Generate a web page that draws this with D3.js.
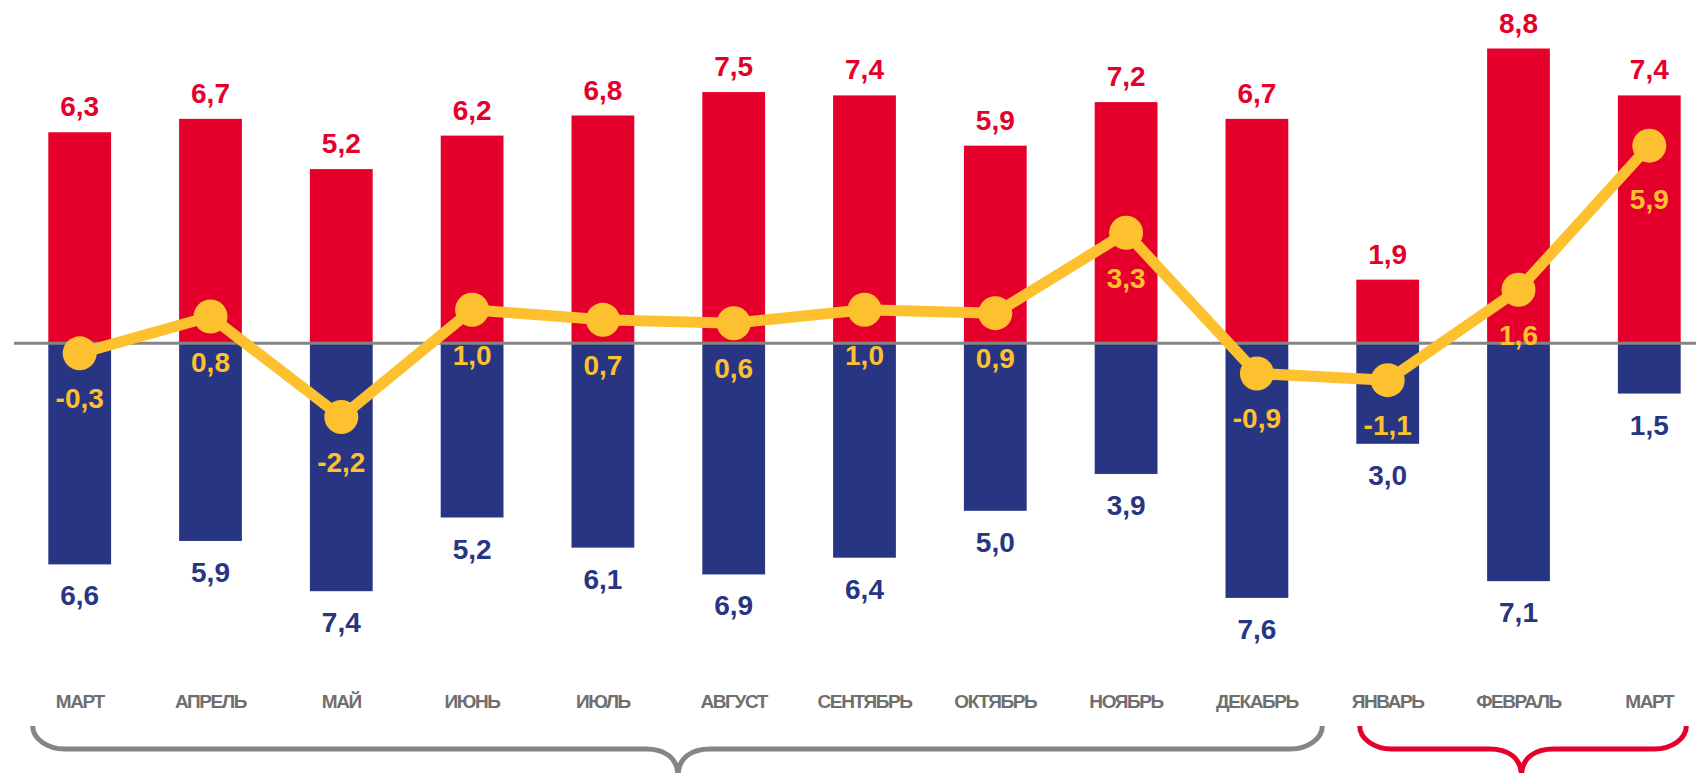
<!DOCTYPE html>
<html>
<head>
<meta charset="utf-8">
<script src="https://cdn.jsdelivr.net/npm/d3@7"></script>
<style>
  html, body { margin: 0; padding: 0; background: #fff; }
  svg { display: block; font-family: "Liberation Sans", Arial, sans-serif; font-weight: bold; }
</style>
</head>
<body>
<svg id="chart" width="1696" height="773"></svg>
<script>
'use strict'

var months = ['МАРТ', 'АПРЕЛЬ', 'МАЙ', 'ИЮНЬ', 'ИЮЛЬ', 'АВГУСТ', 'СЕНТЯБРЬ',
              'ОКТЯБРЬ', 'НОЯБРЬ', 'ДЕКАБРЬ', 'ЯНВАРЬ', 'ФЕВРАЛЬ', 'МАРТ'];
var upValues   = [6.3, 6.7, 5.2, 6.2, 6.8, 7.5, 7.4, 5.9, 7.2, 6.7, 1.9, 8.8, 7.4];
var downValues = [6.6, 5.9, 7.4, 5.2, 6.1, 6.9, 6.4, 5.0, 3.9, 7.6, 3.0, 7.1, 1.5];
var netValues  = [-0.3, 0.8, -2.2, 1.0, 0.7, 0.6, 1.0, 0.9, 3.3, -0.9, -1.1, 1.6, 5.9];
// month index ranges under each brace
var groups = [[0, 9], [10, 12]];

var red = '#e4002b', blue = '#283583', yellow = '#fdc02f', grey = '#858585';

var svg = d3.select('#chart');
var idx = d3.range(months.length);

var x = d3.scaleBand()
    .domain(idx)
    .range([14.3, 14.3 + 13 * 130.8])
    .paddingInner(0.52)
    .paddingOuter(0.26);

var zeroY = 343.3;
var y = d3.scaleLinear()
    .domain([-9, 9])
    .range([zeroY + 9 * 33.5, zeroY - 9 * 33.5]);

var fmt = d3.formatLocale({ decimal: ',', thousands: ' ', grouping: [3], currency: ['', ''], minus: '-' }).format('.1f');
var cx = function(i) { return x(i) + x.bandwidth() / 2; };

// bars
svg.append('g').selectAll('rect')
    .data(idx).join('rect')
    .attr('x', function(i) { return x(i); })
    .attr('width', x.bandwidth())
    .attr('y', function(i) { return y(upValues[i]); })
    .attr('height', function(i) { return y(0) - y(upValues[i]); })
    .attr('fill', red);

svg.append('g').selectAll('rect')
    .data(idx).join('rect')
    .attr('x', function(i) { return x(i); })
    .attr('width', x.bandwidth())
    .attr('y', y(0))
    .attr('height', function(i) { return y(-downValues[i]) - y(0); })
    .attr('fill', blue);

// zero line
svg.append('line')
    .attr('x1', 14).attr('x2', 1696)
    .attr('y1', y(0)).attr('y2', y(0))
    .attr('stroke', grey).attr('stroke-width', 3);

// bar labels
svg.append('g').selectAll('text')
    .data(idx).join('text')
    .attr('x', cx)
    .attr('y', function(i) { return y(upValues[i]) - 16; })
    .attr('text-anchor', 'middle')
    .attr('font-size', 28)
    .attr('fill', red)
    .text(function(i) { return fmt(upValues[i]); });

svg.append('g').selectAll('text')
    .data(idx).join('text')
    .attr('x', cx)
    .attr('y', function(i) { return y(-downValues[i]) + 41; })
    .attr('text-anchor', 'middle')
    .attr('font-size', 28)
    .attr('fill', blue)
    .text(function(i) { return fmt(downValues[i]); });

// net line
var line = d3.line()
    .x(cx)
    .y(function(i) { return y(netValues[i]); });

svg.append('path')
    .datum(idx)
    .attr('d', line)
    .attr('fill', 'none')
    .attr('stroke', yellow)
    .attr('stroke-width', 11)
    .attr('stroke-linejoin', 'round');

svg.append('g').selectAll('circle')
    .data(idx).join('circle')
    .attr('cx', cx)
    .attr('cy', function(i) { return y(netValues[i]); })
    .attr('r', 17)
    .attr('fill', yellow);

svg.append('g').selectAll('text')
    .data(idx).join('text')
    .attr('x', cx)
    .attr('y', function(i) { return y(netValues[i]) + (i === 12 ? 63 : 55); })
    .attr('text-anchor', 'middle')
    .attr('font-size', 28)
    .attr('fill', yellow)
    .text(function(i) { return fmt(netValues[i]); });

// month axis
var axis = svg.append('g')
    .attr('transform', 'translate(0,' + 708 + ')')
    .call(d3.axisBottom(x).tickSize(0).tickPadding(0).tickFormat(function(i) { return months[i]; }));
axis.select('.domain').remove();
axis.selectAll('text')
    .attr('dy', 0)
    .attr('font-family', '"Liberation Sans", Arial, sans-serif')
    .attr('font-weight', 'bold')
    .attr('font-size', 19)
    .attr('letter-spacing', '-1.4px')
    .attr('fill', '#6f6f6f');

// braces under the two periods
function brace(x0, xm, x1) {
  var top = 726, mid = 749, tip = 776, r = 32, k = 0.55;
  var h = mid - top, c = r * (1 - k);
  return 'M' + x0 + ',' + top +
    'C' + x0 + ',' + (top + k * h) + ' ' + (x0 + c) + ',' + mid + ' ' + (x0 + r) + ',' + mid +
    'L' + (xm - r) + ',' + mid +
    'C' + (xm - c) + ',' + mid + ' ' + xm + ',' + (mid + 8) + ' ' + xm + ',' + tip +
    'C' + xm + ',' + (mid + 8) + ' ' + (xm + c) + ',' + mid + ' ' + (xm + r) + ',' + mid +
    'L' + (x1 - r) + ',' + mid +
    'C' + (x1 - c) + ',' + mid + ' ' + x1 + ',' + (top + k * h) + ' ' + x1 + ',' + top;
}

var braceColors = [grey, red];
var braceShape = [
  function(g) { return brace(cx(g[0]) - 47, 678, x(g[1]) + x.bandwidth() + 34); },
  function(g) { return brace(cx(g[0]) - 28, cx(11) + 3, cx(g[1]) + 37); }
];

svg.append('g').selectAll('path')
    .data(groups).join('path')
    .attr('d', function(g, k) { return braceShape[k](g); })
    .attr('fill', 'none')
    .attr('stroke', function(g, k) { return braceColors[k]; })
    .attr('stroke-width', 5);
</script>
</body>
</html>
